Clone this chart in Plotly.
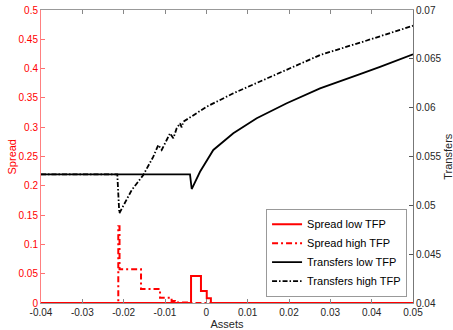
import plotly.graph_objects as go

# ---- data ----
spread_low_x = [-0.04, -0.0037, -0.0013, 0.0001, 0.0011, 0.05]
spread_low_y = [0, 0.046, 0.0205, 0.008, 0, 0]

spread_high_x = [-0.04, -0.0213, -0.0210, -0.0158, -0.0112, -0.0084, -0.0076, -0.0047, 0.05]
spread_high_y = [0, 0.131, 0.0575, 0.024, 0.009, 0.0034, 0.001, 0, 0]

trans_low_x = [-0.04, -0.00395, -0.00354, -0.00153, 0.00169, 0.00653, 0.01219,
               0.01945, 0.02751, 0.03235, 0.03718, 0.04202, 0.04686, 0.05]
trans_low_y = [0.05318, 0.05318, 0.05167, 0.05344, 0.05567, 0.05737, 0.05891,
               0.06045, 0.06198, 0.06268, 0.06343, 0.06418, 0.06495, 0.06546]

trans_high_x = [-0.04, -0.02154, -0.02106, -0.01805, -0.01525, -0.01283, -0.01162,
                -0.01080, -0.00959, -0.00879, -0.00799, -0.00717, -0.00637, -0.00596,
                -0.00557, 0.00009, 0.00653, 0.01299, 0.02025, 0.02751, 0.03864, 0.05]
trans_high_y = [0.05318, 0.05318, 0.04918, 0.05157, 0.05311, 0.05498, 0.05618,
                0.05567, 0.05669, 0.05737, 0.05686, 0.05789, 0.05840, 0.05799,
                0.05856, 0.06010, 0.06147, 0.06266, 0.06403, 0.06539, 0.06685, 0.06839]

x_ticks = [-0.04, -0.03, -0.02, -0.01, 0, 0.01, 0.02, 0.03, 0.04, 0.05]
x_tick_text = ["-0.04", "-0.03", "-0.02", "-0.01", "0", "0.01", "0.02", "0.03", "0.04", "0.05"]
y_ticks = [0, 0.05, 0.1, 0.15, 0.2, 0.25, 0.3, 0.35, 0.4, 0.45, 0.5]
y_tick_text = ["0", "0.05", "0.1", "0.15", "0.2", "0.25", "0.3", "0.35", "0.4", "0.45", "0.5"]
y2_ticks = [0.04, 0.045, 0.05, 0.055, 0.06, 0.065, 0.07]
y2_tick_text = ["0.04", "0.045", "0.05", "0.055", "0.06", "0.065", "0.07"]

FONT = "Liberation Sans, Arial, sans-serif"
RED = "#ff0000"
RED_DASH = "6px,3px,2px,3px"
BLK_DASH = "5px,2px,1.5px,2px"

fig = go.Figure()
fig.add_trace(go.Scatter(x=spread_low_x, y=spread_low_y, mode="lines", line_shape="hv",
                         name="Spread low TFP", line=dict(color=RED, width=2)))
fig.add_trace(go.Scatter(x=spread_high_x, y=spread_high_y, mode="lines", line_shape="hv",
                         name="Spread high TFP", line=dict(color=RED, width=2, dash=RED_DASH)))
fig.add_trace(go.Scatter(x=trans_low_x, y=trans_low_y, mode="lines", yaxis="y2",
                         name="Transfers low TFP", line=dict(color="black", width=1.8)))
fig.add_trace(go.Scatter(x=trans_high_x, y=trans_high_y, mode="lines", yaxis="y2",
                         name="Transfers high TFP", line=dict(color="black", width=1.8, dash=BLK_DASH)))

fig.update_layout(
    width=453, height=330,
    margin=dict(l=41, r=40, t=10, b=27, autoexpand=False),
    paper_bgcolor="white", plot_bgcolor="white",
    font=dict(family=FONT, size=10, color="#262626"),
    showlegend=True,
    legend=dict(x=0.984, y=0.0215, xanchor="right", yanchor="bottom",
                bgcolor="white", bordercolor="#999999", borderwidth=1,
                font=dict(size=11, color="#000000"), tracegroupgap=0,
                itemwidth=30),
    xaxis=dict(range=[-0.04, 0.05], tickvals=x_ticks, ticktext=x_tick_text,
               ticks="inside", ticklen=4, tickcolor="#888888",
               showline=True, linecolor="#999999", linewidth=1, mirror="ticks",
               showgrid=False, zeroline=False,
               title=dict(text="Assets", font=dict(size=11, color="#262626"), standoff=4)),
    yaxis=dict(range=[0, 0.5], tickvals=y_ticks, ticktext=y_tick_text,
               ticks="inside", ticklen=4, tickcolor="#ff7070",
               showline=True, linecolor="#ff8080", linewidth=1,
               tickfont=dict(color=RED), showgrid=False, zeroline=False),
    yaxis2=dict(range=[0.04, 0.07], tickvals=y2_ticks, ticktext=y2_tick_text,
                overlaying="y", side="right", anchor="x",
                ticks="inside", ticklen=4, tickcolor="#555555",
                showline=True, linecolor="#777777", linewidth=1,
                tickfont=dict(color="#262626"), showgrid=False, zeroline=False),
    annotations=[
        dict(text="Spread", xref="paper", yref="paper", x=-0.078, y=0.5,
             textangle=-90, showarrow=False, font=dict(size=11, color=RED),
             xanchor="center", yanchor="middle"),
        dict(text="Transfers", xref="paper", yref="paper", x=1.092, y=0.5,
             textangle=-90, showarrow=False, font=dict(size=11, color="#262626"),
             xanchor="center", yanchor="middle"),
    ],
)

fig.write_html("out.html", config={"displayModeBar": False},
               post_script="document.body.style.margin='0px';document.body.style.overflow='hidden';")
